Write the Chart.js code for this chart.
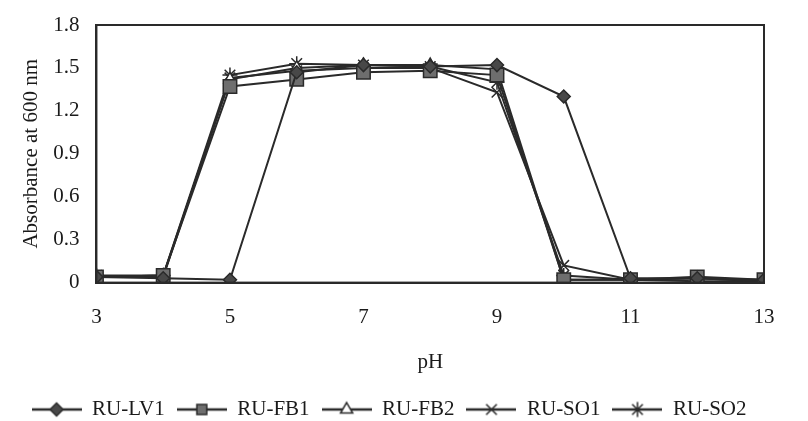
<!DOCTYPE html>
<html>
<head>
<meta charset="utf-8">
<script src="https://cdn.jsdelivr.net/npm/chart.js@4/dist/chart.umd.min.js"></script>
<style>
  html, body { margin: 0; padding: 0; background: #fff; }
  #wrap { width: 808px; height: 421px; }
</style>
</head>
<body>
<div id="wrap"><canvas id="chart" width="808" height="421"></canvas></div>
<script>
// data
const ph_values = [3, 4, 5, 6, 7, 8, 9, 10, 11, 12, 13];
const series_names = ["RU-LV1", "RU-FB1", "RU-FB2", "RU-SO1", "RU-SO2"];
const ru_lv1 = [0.04, 0.03, 0.02, 1.47, 1.52, 1.51, 1.52, 1.30, 0.03, 0.03, 0.02];
const ru_fb1 = [0.04, 0.05, 1.37, 1.42, 1.47, 1.48, 1.45, 0.02, 0.02, 0.04, 0.02];
const ru_fb2 = [0.04, 0.05, 1.42, 1.50, 1.52, 1.52, 1.49, 0.02, 0.02, 0.03, 0.01];
const ru_so1 = [0.04, 0.04, 1.43, 1.48, 1.50, 1.50, 1.33, 0.12, 0.02, 0.01, 0.01];
const ru_so2 = [0.05, 0.05, 1.45, 1.53, 1.52, 1.51, 1.40, 0.05, 0.02, 0.03, 0.01];
const x_ticks = [3, 5, 7, 9, 11, 13];
const y_ticks = [0, 0.3, 0.6, 0.9, 1.2, 1.5, 1.8];

const ink = "#2a2a2a";
const styles = [
    { pointStyle: "rectRot", fill: "#484848", radius: 6.5 },
    { pointStyle: "rect", fill: "#6e6e6e", radius: 9.5 },
    { pointStyle: "triangle", fill: "#fff", radius: 7 },
    { pointStyle: "crossRot", fill: ink, radius: 7.5 },
    { pointStyle: "star", fill: ink, radius: 7.5 },
];
const all_values = [ru_lv1, ru_fb1, ru_fb2, ru_so1, ru_so2];

// legend symbol: line with marker in the middle
function legendIcon(st) {
    const c = document.createElement("canvas");
    c.width = 50; c.height = 20;
    const g = c.getContext("2d");
    g.strokeStyle = ink;
    g.lineWidth = 2.5;
    g.beginPath(); g.moveTo(0, 10); g.lineTo(50, 10); g.stroke();
    g.fillStyle = st.fill;
    g.lineWidth = 1.5;
    const r = st.pointStyle === "rect" ? 7 : st.radius;
    Chart.helpers.drawPoint(g, { pointStyle: st.pointStyle, radius: r, borderWidth: 1.5, rotation: 0 }, 25, 10);
    return c;
}

const datasets = series_names.map((name, i) => ({
    label: name,
    data: ph_values.map((p, j) => ({ x: p, y: all_values[i][j] })),
    borderColor: ink,
    backgroundColor: styles[i].fill,
    borderWidth: 2,
    pointStyle: styles[i].pointStyle,
    pointRadius: styles[i].radius,
    pointBorderColor: ink,
    pointBackgroundColor: styles[i].fill,
    pointBorderWidth: 1.5,
    tension: 0,
}));

// plot frame
const frame = {
    id: "frame",
    afterDatasetsDraw(chart) {
        const a = chart.chartArea, c = chart.ctx;
        c.save();
        c.strokeStyle = ink;
        c.lineWidth = 2;
        c.strokeRect(a.left, a.top, a.right - a.left, a.bottom - a.top);
        c.restore();
    },
};

const serif = "'Liberation Serif', 'Times New Roman', serif";

new Chart(document.getElementById("chart"), {
    type: "line",
    data: { datasets },
    plugins: [frame],
    options: {
        responsive: false,
        animation: false,
        layout: { padding: { top: 25, right: 44, left: 14, bottom: -9 } },
        plugins: {
            tooltip: { enabled: false },
            legend: {
                position: "bottom",
                labels: {
                    usePointStyle: true,
                    pointStyleWidth: 50,
                    boxWidth: 50,
                    boxHeight: 20,
                    padding: 12,
                    color: "#1a1a1a",
                    font: { family: serif, size: 21 },
                    generateLabels: (chart) => chart.data.datasets.map((ds, i) => ({
                        text: ds.label,
                        pointStyle: legendIcon(styles[i]),
                        fillStyle: styles[i].fill,
                        strokeStyle: ink,
                        lineWidth: 0,
                        datasetIndex: i,
                        fontColor: "#1a1a1a",
                    })),
                },
            },
        },
        scales: {
            x: {
                type: "linear",
                min: 3,
                max: 13,
                afterBuildTicks: (s) => { s.ticks = x_ticks.map((v) => ({ value: v })); },
                grid: { display: false },
                border: { color: ink, width: 2 },
                ticks: { color: "#1a1a1a", font: { family: serif, size: 21 }, padding: 14 },
                title: { display: true, text: "pH", color: "#1a1a1a", font: { family: serif, size: 21 }, padding: { top: 6, bottom: 12 } },
            },
            y: {
                min: 0,
                max: 1.8,
                afterBuildTicks: (s) => { s.ticks = y_ticks.map((v) => ({ value: v })); },
                grid: { display: false },
                border: { color: ink, width: 2 },
                ticks: { color: "#1a1a1a", font: { family: serif, size: 21 }, padding: 9, callback: (v) => String(v) },
                title: { display: true, text: "Absorbance at 600 nm", color: "#1a1a1a", font: { family: serif, size: 21 }, padding: { top: 5, bottom: 0 } },
            },
        },
    },
});
</script>
</body>
</html>
